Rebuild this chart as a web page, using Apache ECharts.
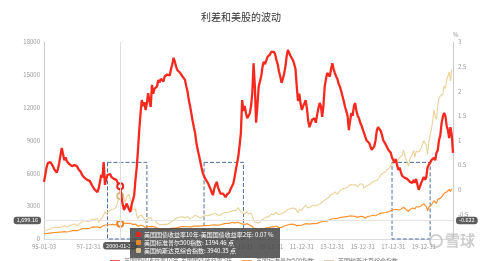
<!DOCTYPE html>
<html><head><meta charset="utf-8">
<script src="https://cdn.jsdelivr.net/npm/echarts@6/dist/echarts.min.js"></script>
<style>html,body{margin:0;padding:0;background:#fff}#c{width:482px;height:261px}</style>
</head><body><div id="c"></div>
<script>
// monthly series, 1995-01 .. 2021-11
const startYear = 1995;
const seriesNames = ['美国国债收益率10年-美国国债收益率2年', '美国标准普尔500指数', '美国纳斯达克综合指数'];
const spread = [
 0.16,0.30,0.45,0.54,0.50,0.56,0.60,0.48,0.42,0.40,0.35,0.42,
 0.55,0.70,0.85,0.72,0.60,0.66,0.58,0.55,0.52,0.50,0.48,0.52,
 0.50,0.46,0.48,0.42,0.40,0.36,0.30,0.26,0.24,0.22,0.20,0.20,
 0.18,0.14,0.08,0.04,0.00,-0.03,-0.05,0.02,0.15,0.30,0.25,0.56,
 0.10,0.22,0.30,0.28,0.32,0.26,0.24,0.22,0.26,0.20,0.14,0.12,
 0.07,-0.15,-0.30,-0.41,-0.35,-0.28,-0.31,-0.40,-0.45,-0.30,-0.21,-0.11,
 0.20,0.45,0.81,1.21,1.55,1.82,1.70,1.78,1.62,1.76,1.96,1.80,
 1.68,2.13,1.95,2.05,2.03,2.10,2.23,2.18,2.25,2.29,2.20,2.30,
 2.28,2.34,2.37,2.32,2.45,2.55,2.68,2.60,2.50,2.43,2.40,2.38,
 2.35,2.30,2.28,2.23,2.10,2.00,1.82,1.70,1.55,1.40,1.27,1.15,
 0.95,0.81,0.70,0.58,0.45,0.34,0.30,0.22,0.18,0.14,0.10,0.02,
 -0.05,-0.11,0.02,0.10,0.16,0.05,-0.02,-0.08,-0.11,-0.08,-0.12,-0.15,
 -0.10,-0.13,-0.05,0.02,0.06,0.12,0.25,0.40,0.54,0.68,0.90,1.15,
 1.82,1.60,1.70,1.56,1.45,1.42,1.55,1.70,1.96,2.57,2.10,1.36,
 1.70,2.09,2.20,2.30,2.49,2.60,2.55,2.62,2.70,2.66,2.75,2.80,
 2.84,2.80,2.75,2.63,2.55,2.40,2.30,2.17,2.25,2.35,2.49,2.70,
 2.84,2.80,2.72,2.70,2.63,2.55,2.45,2.09,1.80,1.95,1.75,1.62,
 1.70,1.75,1.82,1.65,1.40,1.27,1.25,1.42,1.40,1.45,1.36,1.52,
 1.65,1.76,1.70,1.48,1.70,2.10,2.25,2.37,2.40,2.30,2.45,2.57,
 2.45,2.37,2.30,2.25,2.15,2.09,2.00,1.90,1.80,1.68,1.60,1.50,
 1.21,1.40,1.56,1.50,1.70,1.76,1.60,1.50,1.45,1.36,1.30,1.22,
 1.15,1.07,1.00,0.98,0.95,0.88,0.81,0.84,0.88,1.00,1.20,1.27,
 1.25,1.20,1.12,1.01,0.98,0.92,0.90,0.81,0.82,0.75,0.65,0.60,
 0.55,0.62,0.50,0.40,0.45,0.35,0.28,0.26,0.24,0.28,0.22,0.18,
 0.16,0.20,0.14,0.20,0.14,0.22,0.10,0.00,0.04,0.14,0.20,0.26,
 0.20,0.26,0.46,0.42,0.55,0.60,0.58,0.65,0.60,0.75,0.80,1.01,
 1.10,1.35,1.48,1.56,1.50,1.30,1.21,1.05,1.27,1.12,0.75
];
const sp500 = [
 470,487,501,515,533,545,562,562,584,582,605,616,
 636,640,645,654,669,671,640,652,687,705,757,741,
 786,791,757,801,848,885,954,899,947,915,955,970,
 980,1049,1102,1112,1091,1134,1121,957,1017,1099,1164,1229,
 1280,1238,1286,1335,1302,1373,1329,1320,1283,1363,1389,1469,
 1394.46,1366,1499,1452,1421,1455,1431,1518,1437,1429,1315,1320,
 1366,1240,1160,1249,1256,1224,1211,1134,1041,1060,1139,1148,
 1130,1107,1147,1077,1067,990,912,916,815,886,936,880,
 856,841,848,917,964,975,990,1008,996,1051,1058,1112,
 1131,1145,1126,1107,1121,1141,1102,1104,1115,1130,1174,1212,
 1181,1204,1181,1157,1192,1191,1234,1220,1229,1207,1249,1248,
 1280,1281,1295,1311,1270,1270,1277,1304,1336,1378,1401,1418,
 1438,1407,1421,1482,1531,1503,1455,1474,1527,1549,1481,1468,
 1379,1331,1323,1386,1400,1280,1267,1283,1166,969,896,903,
 826,735,798,873,919,919,987,1021,1057,1036,1096,1115,
 1074,1104,1169,1187,1089,1031,1102,1049,1141,1183,1181,1258,
 1286,1327,1326,1364,1345,1321,1292,1219,1131,1253,1247,1258,
 1312,1366,1408,1398,1310,1362,1379,1407,1441,1412,1416,1426,
 1498,1515,1569,1598,1631,1606,1686,1633,1682,1757,1806,1848,
 1783,1859,1872,1884,1924,1960,1931,2003,1972,2018,2068,2059,
 1995,2105,2068,2086,2107,2063,2104,1972,1920,2079,2080,2044,
 1940,1932,2060,2065,2097,2099,2174,2171,2168,2126,2199,2239,
 2279,2364,2363,2384,2412,2423,2470,2472,2519,2575,2648,2674,
 2824,2714,2641,2648,2705,2718,2816,2902,2914,2712,2760,2507,
 2704,2784,2834,2946,2752,2942,2980,2926,2977,3038,3141,3231,
 3226,2954,2585,2912,3044,3100,3271,3500,3363,3270,3622,3756,
 3714,3811,3973,4181,4204,4298,4395,4523,4308,4605,4567
];
const nasdaq = [
 755,793,817,843,865,933,1001,1020,1044,1036,1059,1052,
 1060,1100,1101,1191,1243,1185,1081,1142,1227,1222,1293,1291,
 1380,1309,1222,1261,1400,1442,1594,1587,1686,1594,1601,1570,
 1619,1771,1835,1868,1779,1895,1872,1499,1694,1771,1950,2193,
 2506,2288,2461,2542,2471,2686,2638,2739,2746,2966,3336,3900,
 3940.35,4350,4450,3700,3300,3850,3700,4100,3600,3300,2650,2500,
 2773,2152,1840,2116,2110,2161,2027,1805,1499,1690,1931,1950,
 1934,1731,1845,1688,1616,1463,1328,1315,1172,1330,1479,1336,
 1321,1338,1341,1464,1596,1623,1735,1810,1787,1932,1960,2003,
 2066,2030,1994,1920,1987,2048,1887,1838,1897,1975,2097,2175,
 2062,2052,1999,1922,2068,2057,2185,2152,2151,2120,2233,2205,
 2306,2281,2340,2323,2179,2172,2091,2184,2258,2367,2432,2415,
 2464,2416,2422,2525,2605,2603,2546,2596,2702,2859,2661,2652,
 2390,2271,2279,2413,2523,2293,2326,2368,2092,1721,1536,1577,
 1476,1378,1529,1717,1774,1835,1979,2009,2122,2045,2145,2269,
 2147,2238,2398,2461,2257,2109,2255,2114,2369,2507,2498,2653,
 2700,2782,2781,2874,2835,2774,2756,2579,2415,2684,2620,2605,
 2814,2967,3092,3046,2827,2935,2940,3067,3116,2977,3010,3020,
 3142,3160,3268,3329,3456,3403,3626,3590,3771,3920,4060,4177,
 4104,4308,4199,4115,4243,4408,4370,4580,4493,4631,4792,4736,
 4635,4964,4901,4941,5070,4987,5128,4777,4620,5054,5109,5007,
 4614,4558,4870,4775,4948,4843,5162,5213,5312,5189,5324,5383,
 5615,5825,5912,6048,6199,6140,6348,6429,6496,6728,6874,6903,
 7411,7273,7063,7066,7442,7510,7672,8110,8046,7306,7331,6635,
 7282,7533,7729,8095,7453,8006,8175,7963,7999,8292,8665,8973,
 9151,8567,7700,8890,9490,10059,10745,11775,11168,10912,12199,12888,
 13071,13192,13247,13962,13749,14504,14673,15259,14449,15498,15538
];
// dashed observation zones: [start month, end month, top value on left axis]
const zoneRanges = [['1999-03','2001-10',7000],['2005-07','2008-02',7000],['2017-11','2020-05',7000]];
const hoverMonth = '2000-01';

// category labels (month-end dates)
const categories = [];
for (let i = 0; i < spread.length; i++) {
  const y = startYear + Math.floor(i / 12), m = i % 12 + 1;
  const d = i === 0 ? 3 : new Date(y, m, 0).getDate();
  categories.push(y + '-' + String(m).padStart(2,'0') + '-' + String(d).padStart(2,'0'));
}
const catOf = ym => categories.find(c => c.startsWith(ym));

const RED = '#e0261d', ORANGE = '#e9862c', TAN = '#d6bf8b';
const chart = echarts.init(document.getElementById('c'));
const axisLblStyle = {color:'#999', fontSize:6, fontFamily:'Noto Sans CJK SC'};
const ptrLabel = {backgroundColor:'#5c5c5c', color:'#fff', fontSize:5.5, padding:[1,3], fontFamily:'Noto Sans CJK SC'};

chart.setOption({
  animation: false,
  textStyle: {fontFamily: 'Noto Sans CJK SC'},
  title: {text:'利差和美股的波动', left:'center', top:7, textStyle:{fontSize:10, fontWeight:'normal', color:'#333'}},
  grid: {left:44, right:29, top:42, bottom:22},
  legend: {
    data: seriesNames, top:253, left:105, icon:'rect', itemWidth:10, itemHeight:1.5, itemGap:10,
    textStyle:{fontSize:6, color:'#777', padding:[0,0,0,-1]}
  },
  tooltip: {
    trigger:'axis',
    position: () => [130, 228],
    backgroundColor:'rgba(68,68,68,0.85)', borderWidth:0, padding:[3,6],
    extraCssText:'box-shadow:none;border-radius:0;',
    textStyle:{color:'#fff', fontSize:6},
    axisPointer:{type:'cross', lineStyle:{color:'#ddd', width:1, type:'solid'}, crossStyle:{color:'#e4e4e4', width:1, type:'solid'}, label: ptrLabel},
    formatter: ps => ps.map(p => {
      const unit = p.seriesIndex === 0 ? ' %' : ' 点';
      return '<div style="line-height:8px;white-space:nowrap"><span style="display:inline-block;width:5px;height:5px;margin-right:3px;border-radius:1px;background:' + p.color + '"></span>' + p.seriesName + ': ' + Number(p.value).toFixed(2) + unit + '</div>';
    }).join('')
  },
  xAxis: {
    type:'category', data:categories, boundaryGap:false,
    axisLine:{lineStyle:{color:'#ddd'}}, axisTick:{show:false},
    axisLabel:{...axisLblStyle, margin:5, formatter: v => v.slice(2),
      interval: (i) => i === 0 || (i >= 35 && (i - 11) % 24 === 0)},
    axisPointer:{label:{...ptrLabel}}
  },
  yAxis: [
    {type:'value', min:0, max:18000, interval:3000, splitLine:{show:false},
     axisLine:{show:true, lineStyle:{color:'#ccc'}}, axisTick:{show:false},
     axisLabel:{...axisLblStyle, margin:4, formatter: v => String(v)},
     axisPointer:{label:{...ptrLabel, formatter: p => Number(p.value).toLocaleString('en-US',{minimumFractionDigits:2, maximumFractionDigits:2})}}},
    {type:'value', min:-1, max:3, interval:0.5, position:'right', splitLine:{show:false},
     name:'%', nameGap:4, nameTextStyle:{color:'#999', fontSize:6, align:'left'},
     axisLine:{show:true, lineStyle:{color:'#ccc'}}, axisTick:{show:false},
     axisLabel:{...axisLblStyle, margin:5, showMinLabel:false},
     axisPointer:{label:{...ptrLabel, formatter: p => Number(p.value).toFixed(3)}}}
  ],
  series: [
    {name:seriesNames[0], type:'line', yAxisIndex:1, data:spread, showSymbol:false, symbol:'emptyCircle', symbolSize:5,
     itemStyle:{color:RED}, lineStyle:{color:RED, width:2.3}, z:3},
    {name:seriesNames[1], type:'line', yAxisIndex:0, data:sp500, showSymbol:false, symbol:'emptyCircle', symbolSize:5,
     itemStyle:{color:ORANGE}, lineStyle:{color:ORANGE, width:1.2}, z:2,
     markArea:{silent:true, label:{show:false},
       itemStyle:{color:'rgba(0,0,0,0)', borderColor:'#4d6f9c', borderWidth:1, borderType:'dashed'},
       data: zoneRanges.map(z => [{xAxis:catOf(z[0]), yAxis:z[2]}, {xAxis:catOf(z[1]), yAxis:0}])}},
    {name:seriesNames[2], type:'line', yAxisIndex:0, data:nasdaq, showSymbol:false, symbol:'emptyCircle', symbolSize:5,
     itemStyle:{color:TAN}, lineStyle:{color:TAN, width:1.1}, z:2}
  ],
  graphic: [
    {type:'circle', shape:{cx:436, cy:241, r:6}, style:{fill:'none', stroke:'rgba(185,185,185,0.7)', lineWidth:2}, z:100},
    {type:'text', x:445, y:233, style:{text:'雪球', font:'bold 15px "Noto Sans CJK SC"', fill:'rgba(185,185,185,0.7)'}, z:100}
  ]
});
const hoverIdx = categories.indexOf(catOf(hoverMonth));
const px = chart.convertToPixel({xAxisIndex:0}, categories[hoverIdx]);
const py = chart.convertToPixel({yAxisIndex:0}, 1699.16);
chart.dispatchAction({type:'showTip', x:px, y:py});
</script></body></html>
